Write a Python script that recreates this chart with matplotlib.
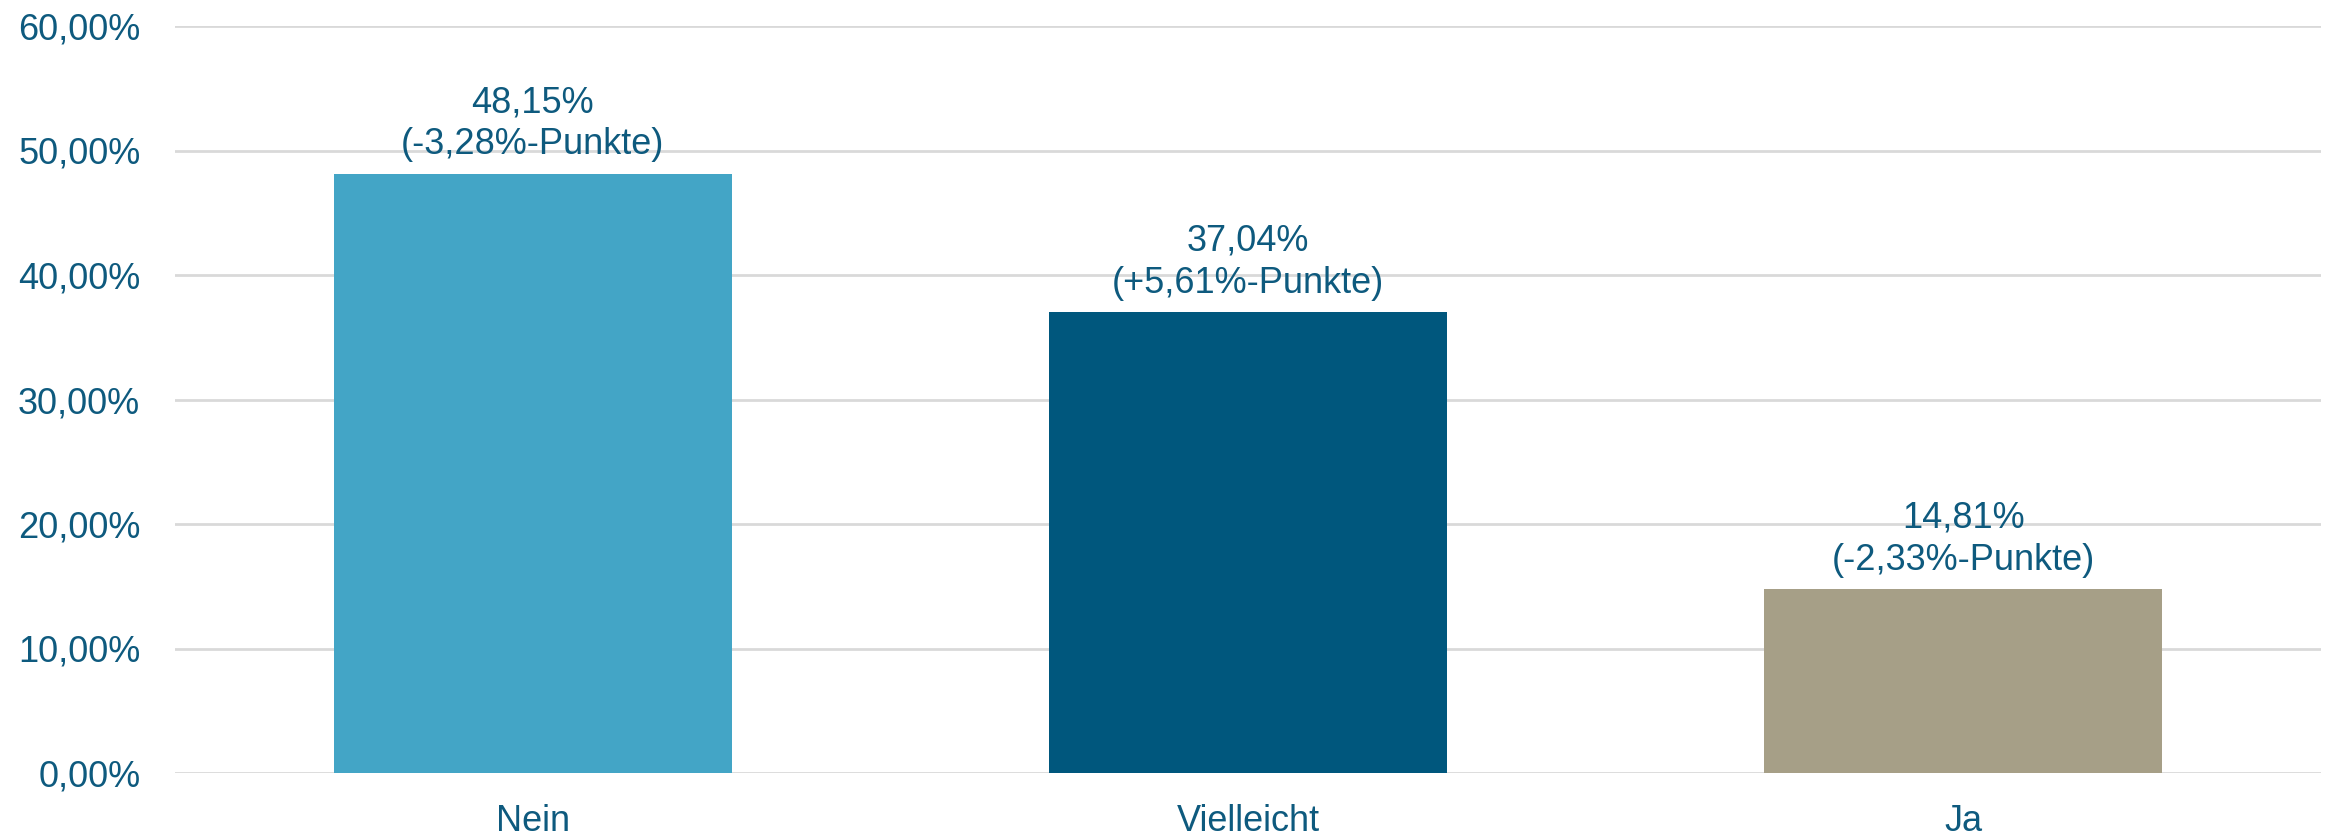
import matplotlib
matplotlib.use("Agg")
import matplotlib.pyplot as plt
from matplotlib.ticker import FuncFormatter

categories = ["Nein", "Vielleicht", "Ja"]
values = [48.15, 37.04, 14.81]
changes = ["-3,28", "+5,61", "-2,33"]
colors = ["#43A5C6", "#00577D", "#A69F87"]
yticks = [0, 10, 20, 30, 40, 50, 60]

text_color = "#0E5A7E"
plt.rcParams['font.family'] = ['Liberation Sans', 'DejaVu Sans']

fig = plt.figure(figsize=(23.34, 8.32), dpi=100)
ax = fig.add_axes([175/2334, 1-773/832, (2321-175)/2334, (773-26)/832])

x = list(range(len(categories)))
bars = ax.bar(x, values, width=0.556, color=colors, zorder=3)

ax.set_xlim(-0.5, len(categories)-0.5)
ax.set_ylim(0, 60)
ax.set_yticks(yticks)
ax.yaxis.set_major_formatter(FuncFormatter(lambda v, p: f"{v:.2f}".replace(".", ",") + "%"))
ax.set_xticks(x)
ax.set_xticklabels(categories)
ax.tick_params(axis='both', length=0, labelsize=26, colors=text_color)
ax.tick_params(axis='y', pad=25)
ax.tick_params(axis='x', pad=22)
ax.grid(axis='y', color='#D9D9D9', linewidth=2, zorder=0)
for s in ax.spines.values():
    s.set_visible(False)

for xi, v, c in zip(x, values, changes):
    label = f"{v:.2f}".replace(".", ",") + "%\n(" + c + "%-Punkte)"
    ax.annotate(label, (xi, v), xytext=(0, 8), textcoords='offset points',
                ha='center', va='bottom', fontsize=26, color=text_color,
                linespacing=1.25)

fig.savefig("out.png", dpi=100)
